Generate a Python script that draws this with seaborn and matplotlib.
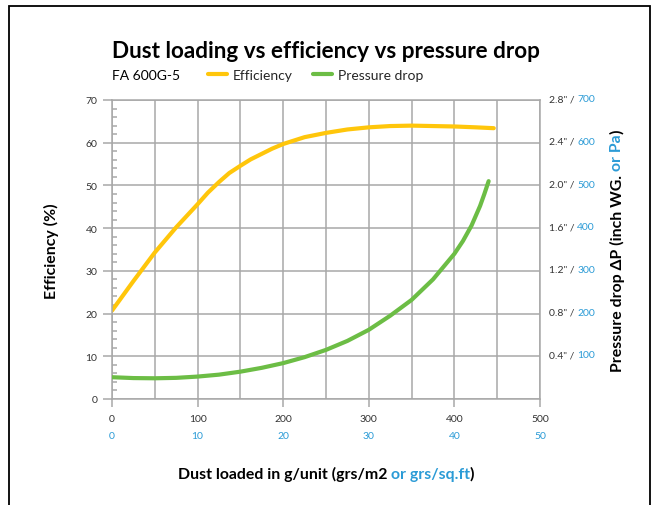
import matplotlib
matplotlib.use("Agg")
import matplotlib.pyplot as plt
import seaborn as sns
import pandas as pd
from matplotlib.patches import Rectangle
from matplotlib.ticker import MultipleLocator

# efficiency curve (%)
dust_eff = [0, 25, 50, 75, 100, 112, 125, 137, 150, 162, 175, 187, 200, 225, 250, 275, 300, 325, 350, 375, 400, 425, 446]
efficiency = [20.7, 27.6, 34.3, 40.2, 45.6, 48.3, 50.8, 52.9, 54.6, 56.1, 57.4, 58.6, 59.7, 61.3, 62.3, 63.1, 63.6, 63.9, 64.0, 63.9, 63.8, 63.6, 63.4]

# pressure drop curve (Pa)
dust_dp = [0, 25, 50, 75, 100, 125, 150, 175, 200, 225, 250, 275, 300, 325, 350, 375, 400, 410, 420, 430, 435, 440]
pressure_pa = [51, 49, 48.5, 49.5, 52.5, 57, 64, 73, 84, 98, 115, 136, 162, 195, 232, 280, 340, 370, 406, 452, 480, 510]

x_ticks = [0, 100, 200, 300, 400, 500]
x_ticks_sqft = [0, 10, 20, 30, 40, 50]
y_ticks = [0, 10, 20, 30, 40, 50, 60, 70]
dp_ticks_pa = [100, 200, 300, 400, 500, 600, 700]
dp_ticks_inch = ['0.4"', '0.8"', '1.2"', '1.6"', '2.0"', '2.4"', '2.8"']

YELLOW = "#FFC60B"
GREEN = "#6CBD45"
BLUE = "#2B9BD6"
GRID = "#A8A8A8"
TEXT = "#333333"

sns.set_theme(style="white")
plt.rcParams["font.family"] = ["Lato", "DejaVu Sans"]

eff_df = pd.DataFrame({"dust": dust_eff, "value": efficiency})
dp_df = pd.DataFrame({"dust": dust_dp, "value": pressure_pa})

fig = plt.figure(figsize=(6.52, 5.06), dpi=100)
ax = fig.add_axes([112 / 652, 1 - 400 / 506, 428 / 652, 299 / 506])
ax2 = ax.twinx()

sns.lineplot(data=eff_df, x="dust", y="value", ax=ax, color=YELLOW, lw=3, label="Efficiency", legend=False)
sns.lineplot(data=dp_df, x="dust", y="value", ax=ax2, color=GREEN, lw=3, label="Pressure drop", legend=False)
for ln in ax.lines + ax2.lines:
    ln.set_solid_joinstyle("round")

ax.set_xlim(0, 500)
ax.set_ylim(0, 70)
ax2.set_ylim(0, 700)
ax.set_xlabel("")
ax.set_ylabel("")
ax2.set_ylabel("")

ax.set_xticks(x_ticks)
ax.xaxis.set_minor_locator(MultipleLocator(50))
ax.set_yticks(y_ticks)
ax.yaxis.set_minor_locator(MultipleLocator(2))
ax.set_axisbelow(True)
ax.xaxis.grid(True, which="both", color=GRID, lw=1.1)
ax.yaxis.grid(True, which="major", color=GRID, lw=1.1)
for s in ax.spines.values():
    s.set_color(GRID)
    s.set_linewidth(1.1)
for s in ax2.spines.values():
    s.set_visible(False)
ax2.set_yticks([])

ax.tick_params(axis="x", which="major", bottom=True, direction="out", length=6,
               width=1.1, color=GRID, labelsize=7.5, labelcolor=TEXT, pad=5)
ax.tick_params(axis="x", which="minor", bottom=True, length=0)
ax.tick_params(axis="y", which="major", left=True, direction="out", length=6.5,
               width=1.1, color=GRID, labelsize=7.5, labelcolor=TEXT, pad=4)
ax.tick_params(axis="y", which="minor", left=True, direction="in", length=3.6,
               width=1.1, color=GRID)

# blue grs/sq.ft row under the x axis
sec = ax.secondary_xaxis("bottom", functions=(lambda x: x / 10, lambda x: x * 10))
sec.set_xticks(x_ticks_sqft)
sec.tick_params(length=0, pad=23, labelsize=7.5, labelcolor=BLUE)
sec.spines["bottom"].set_visible(False)

# right axis labels: inch part grey, Pa part blue
for v, inch in zip(dp_ticks_pa, dp_ticks_inch):
    t = ax2.annotate(inch + " / ", xy=(1, v), xycoords=("axes fraction", "data"),
                     xytext=(6.5, 1), textcoords="offset points", ha="left", va="center",
                     fontsize=7.5, color=TEXT, annotation_clip=False)
    ax2.annotate(str(v), xy=(1, 0.5), xycoords=t, ha="left", va="center",
                 fontsize=7.5, color=BLUE, annotation_clip=False)

# title, subtitle, legend
fig.text(112 / 652, 1 - 52 / 506, "Dust loading vs efficiency vs pressure drop",
         fontsize=16.2, weight="bold", color="black", ha="left", va="center")
fig.text(112 / 652, 1 - 76 / 506, "FA 600G-5", fontsize=10, color="black", ha="left", va="center")
handles = [ax.lines[0], ax2.lines[0]]
fig.legend(handles, ["Efficiency", "Pressure drop"], loc="center left",
           bbox_to_anchor=(208 / 652, 1 - 76 / 506), ncol=2, frameon=False,
           fontsize=10, handlelength=1.37, handletextpad=0.43, columnspacing=1.44,
           borderpad=0, borderaxespad=0)

# axis titles with blue parts
lab = dict(fontsize=11.4, weight="bold")
x1 = fig.text(0.3, 1 - 474 / 506, "Dust loaded in g/unit (grs/m2 ", ha="left", va="center", color="black", **lab)
x2 = ax.annotate("or grs/sq.ft", xy=(1, 0), xycoords=x1, ha="left", va="bottom", color=BLUE, annotation_clip=False, **lab)
x3 = ax.annotate(")", xy=(1, 0), xycoords=x2, ha="left", va="bottom", color="black", annotation_clip=False, **lab)

fig.text(51 / 652, 1 - 251 / 506, "Efficiency (%)", rotation=90, ha="center", va="center", color="black", **lab)

r1 = fig.text(617 / 652, 0.3, "Pressure drop \u0394P (inch WG. ", rotation=90, ha="center", va="bottom", color="black", **lab)
r2 = ax.annotate("or Pa", xy=(0.5, 1), xycoords=r1, rotation=90, ha="center", va="bottom", color=BLUE, annotation_clip=False, **lab)
r3 = ax.annotate(")", xy=(0.5, 1), xycoords=r2, rotation=90, ha="center", va="bottom", color="black", annotation_clip=False, **lab)

# centre the multi-colour labels
fig.canvas.draw()
r = fig.canvas.get_renderer()
w = sum(t.get_window_extent(r).width for t in (x1, x2, x3))
x1.set_x((326 - w / 2) / 652)
h = sum(t.get_window_extent(r).height for t in (r1, r2, r3))
r1.set_y((506 - 251 - h / 2) / 506)

# outer frame
fig.add_artist(Rectangle((9 / 652, -0.05), 641 / 652, 1.05 - 7 / 506, transform=fig.transFigure,
                         fill=False, ec="black", lw=1.3, clip_on=False))

fig.savefig("out.png", dpi=100)
